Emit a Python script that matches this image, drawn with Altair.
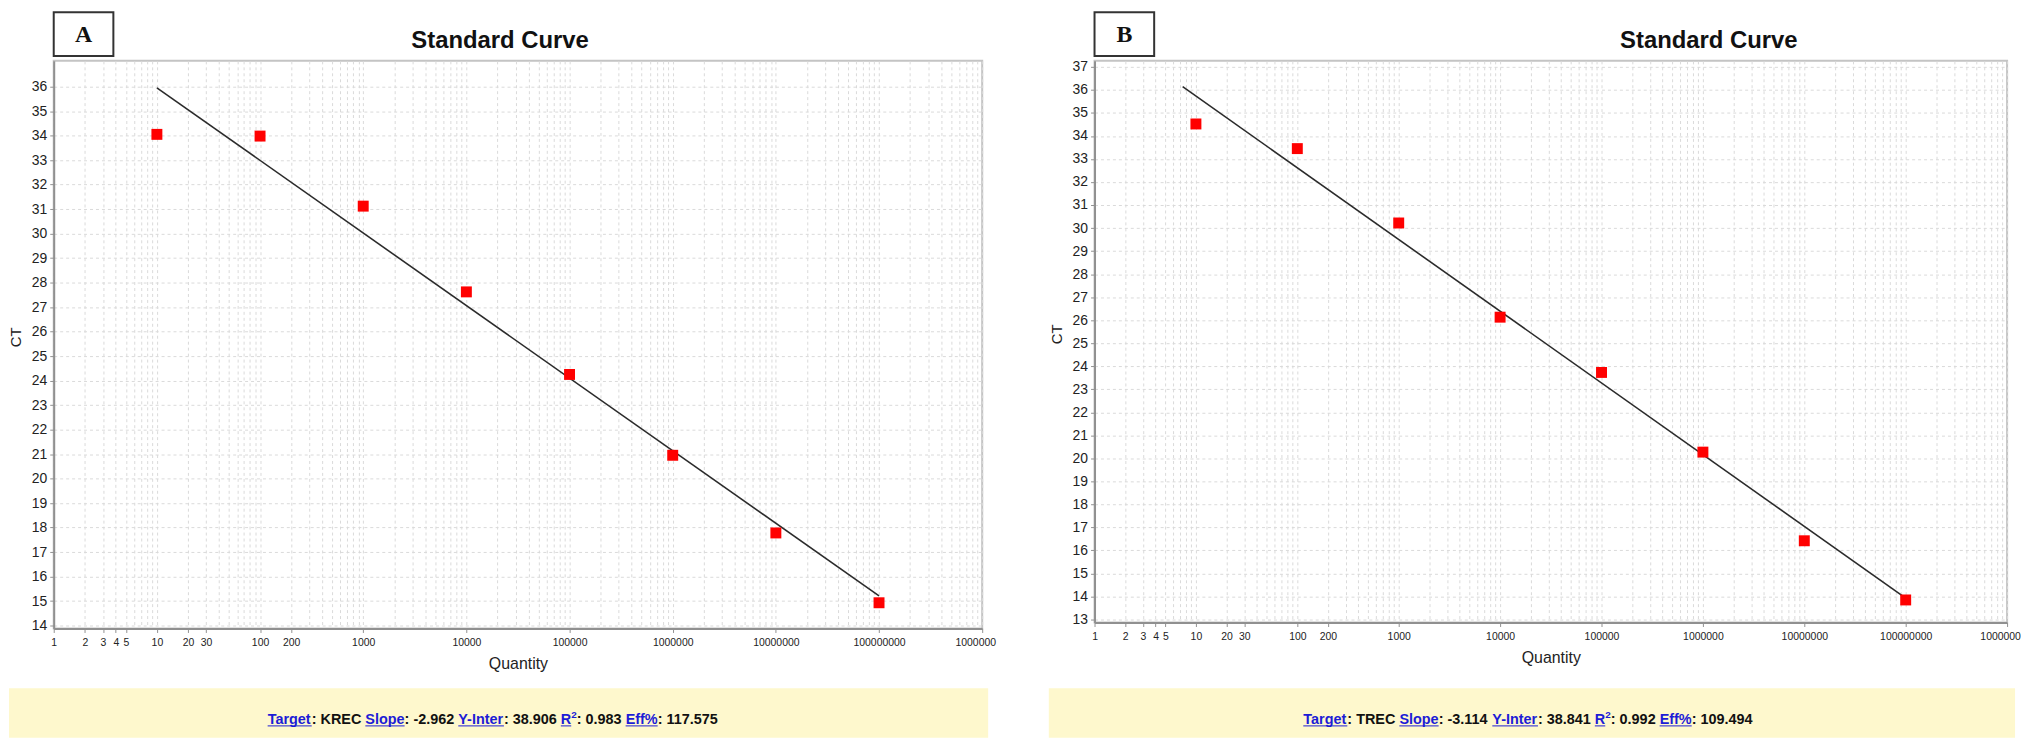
import altair as alt
import pandas as pd

# Ct, one point per 10-fold dilution
quantity = [10, 100, 1000, 10000, 100000, 1000000, 10000000, 100000000]
ct_krec = [34.05, 33.98, 31.12, 27.62, 24.25, 20.95, 17.78, 14.93]
ct_trec = [34.52, 33.45, 30.22, 26.13, 23.73, 20.27, 16.42, 13.85]

# ends of the fitted lines as they are drawn
fit_qty_krec = [10, 100000000]
fit_ct_krec = [35.95, 15.21]
fit_qty_trec = [7.4, 100000000]
fit_ct_trec = [36.14, 13.93]

# labelled ticks of the log axis, grid lines at 1..9 of every decade
x_labels = [1, 2, 3, 4, 5, 10, 20, 30, 100, 200, 1000, 10000, 100000,
            1000000, 10000000, 100000000, 1000000000]
x_grid = [m * 10 ** k for k in range(9) for m in range(1, 10)] + [10 ** 9]

footer_krec = [('Target', 'link'), (': KREC ', 'text'), ('Slope', 'link'), (': -2.962 ', 'text'),
               ('Y-Inter', 'link'), (': 38.906 ', 'text'), ('R', 'link'), ('2', 'sup'),
               (': 0.983 ', 'text'), ('Eff%', 'link'), (': 117.575', 'text')]
footer_trec = [('Target', 'link'), (': TREC ', 'text'), ('Slope', 'link'), (': -3.114 ', 'text'),
               ('Y-Inter', 'link'), (': 38.841 ', 'text'), ('R', 'link'), ('2', 'sup'),
               (': 0.992 ', 'text'), ('Eff%', 'link'), (': 109.494', 'text')]

BLUE = '#1c1cd6'
NARROW = 'Liberation Sans Narrow, Arial Narrow, Liberation Sans, sans-serif'
SANS = 'Liberation Sans, Arial, sans-serif'

# Arial Bold advance widths (1/1000 em), used to lay the footer pieces side by side
bold_w = {' ': 278, ':': 333, '.': 278, '-': 333, '%': 889, 'K': 722, 'R': 722, 'E': 667,
          'C': 722, 'T': 611, 'a': 556, 'r': 389, 'g': 611, 'e': 556, 't': 333, 'S': 667,
          'l': 278, 'o': 611, 'p': 611, 'Y': 667, 'I': 278, 'n': 611, 'f': 333}

one = pd.DataFrame({'k': [0]})


def text_w(s, size):
    return sum(bold_w.get(c, 556) for c in s) * size / 1000


def deco_text(s, x, y, **kw):
    return alt.Chart(one).mark_text(text=s, **kw).encode(x=alt.value(x), y=alt.value(y))


def deco_rect(x0, x1, y0, y1, **kw):
    return alt.Chart(one).mark_rect(**kw).encode(
        x=alt.value(x0), x2=alt.value(x1), y=alt.value(y0), y2=alt.value(y1))


def deco_rule(x0, x1, y, **kw):
    return alt.Chart(one).mark_rule(**kw).encode(x=alt.value(x0), x2=alt.value(x1), y=alt.value(y))


def footer_layers(segments, cx, base_y, size=14.5, sup_size=10):
    widths = [text_w(s, sup_size if kind == 'sup' else size) for s, kind in segments]
    x = cx - sum(widths) / 2
    out = []
    for (s, kind), w in zip(segments, widths):
        if kind == 'sup':
            out.append(deco_text(s, x, base_y - 6, align='left', baseline='alphabetic',
                                 font=SANS, fontSize=sup_size, fontWeight='bold', color=BLUE))
        else:
            out.append(deco_text(s, x, base_y, align='left', baseline='alphabetic', font=SANS,
                                 fontSize=size, fontWeight='bold',
                                 color=BLUE if kind == 'link' else '#111111'))
            if kind == 'link':
                out.append(deco_rule(x, x + w, base_y + 2, color=BLUE, strokeWidth=1))
        x += w
    return out


def panel(letter, qty, ct, fit_q, fit_c, y_dom, y_ticks, w, h, title_x,
          footer, foot_x0, foot_x1, foot_cx):
    pts = pd.DataFrame({'Quantity': qty, 'CT': ct})
    fit = pd.DataFrame({'Quantity': fit_q, 'CT': fit_c})

    label_expr = (f"indexof({x_labels}, datum.value) >= 0 ? "
                  "(datum.value >= 1e9 ? '1000000' : format(datum.value, 'd')) : ''")
    x_enc = alt.X('Quantity:Q', title='Quantity',
                  scale=alt.Scale(type='log', domain=[1, 1e9], nice=False),
                  axis=alt.Axis(values=x_grid, grid=True, gridColor='#dadada', gridDash=[3, 3],
                                domainColor='#909090', domainWidth=2, tickColor='#909090', tickSize=4,
                                tickOpacity={'condition': {'test': f'indexof({x_labels}, datum.value) >= 0',
                                                           'value': 1}, 'value': 0},
                                labelExpr=label_expr, labelFont=NARROW, labelFontSize=10.5,
                                labelColor='#222222', labelPadding=5, labelOverlap=False, labelFlush=False,
                                labelOffset={'condition': {'test': 'datum.value >= 1e9', 'value': -7},
                                             'value': 0},
                                titleFont=NARROW, titleFontSize=16, titleFontWeight='normal',
                                titleColor='#222222', titlePadding=8))
    y_enc = alt.Y('CT:Q', title='CT',
                  scale=alt.Scale(domain=y_dom, nice=False, zero=False),
                  axis=alt.Axis(values=y_ticks, grid=True, gridColor='#dadada', gridDash=[3, 3],
                                domainColor='#909090', domainWidth=2, tickColor='#909090', tickSize=4,
                                labelFont=SANS, labelFontSize=14, labelColor='#222222', labelPadding=3,
                                labelOverlap=False, titleFont=SANS, titleFontSize=15,
                                titleFontWeight='normal', titleColor='#222222', titleAngle=-90,
                                titleX=-38, titleY=h / 2 - 8, titleBaseline='middle'))

    line = alt.Chart(fit).mark_line(color='#2b2b2b', strokeWidth=1.6).encode(x=x_enc, y=y_enc)
    dots = alt.Chart(pts).mark_square(size=121, color='#ff0000', opacity=1).encode(
        x=x_enc, y=y_enc, tooltip=['Quantity:Q', 'CT:Q'])

    decor = [
        deco_rect(0, 60, -49, -5, fill='white', stroke='#333333', strokeWidth=2),
        deco_text(letter, 30, -26, font='Liberation Serif, Times New Roman, serif', fontSize=24,
                  fontWeight='bold', color='#111111', baseline='middle'),
        deco_text('Standard Curve', title_x, -20, font=SANS, fontSize=24, fontWeight='bold',
                  color='#111111', baseline='middle'),
        deco_rect(foot_x0, foot_x1, 631, 681, fill='#fef8cd'),
    ] + footer_layers(footer, foot_cx, 667)

    return alt.layer(*decor, line, dots).properties(width=w, height=h)


panel_a = panel('A', quantity, ct_krec, fit_qty_krec, fit_ct_krec, [13.88, 37.05],
                list(range(14, 37)), 934, 571, 449, footer_krec, -45, 940, 442)
panel_b = panel('B', quantity, ct_trec, fit_qty_trec, fit_ct_trec, [12.87, 37.26],
                list(range(13, 38)), 918, 565, 618, footer_trec, -46, 926, 436)

chart = alt.hconcat(panel_a, panel_b, spacing=113, bounds='flush', padding=0,
                    background='white').configure_view(stroke='#c4c4c4', strokeWidth=2)

chart.save("out.html", embed_options={"renderer": "svg", "actions": False})
